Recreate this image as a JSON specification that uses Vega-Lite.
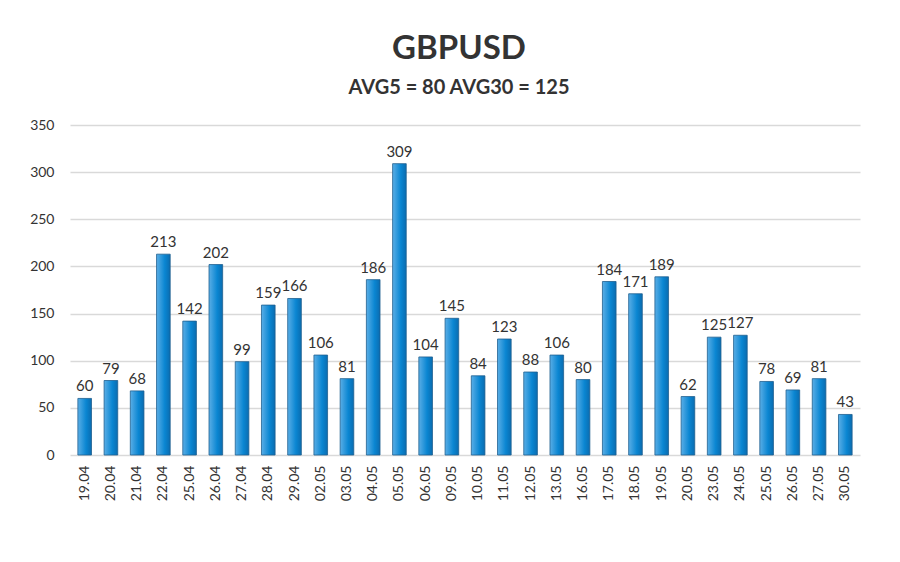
{
  "$schema": "https://vega.github.io/schema/vega-lite/v6.json",
  "autosize": "none",
  "width": 790,
  "height": 330,
  "padding": {"left": 70, "top": 125, "right": 40, "bottom": 107},
  "background": "white",
  "title": {
    "text": "GBPUSD",
    "subtitle": "AVG5 = 80 AVG30 = 125",
    "anchor": "middle",
    "dx": -6,
    "offset": 20,
    "font": "Lato",
    "fontSize": 33,
    "fontWeight": "bold",
    "color": "#333333",
    "subtitleFont": "Lato",
    "subtitleFontSize": 20,
    "subtitleFontWeight": "bold",
    "subtitleColor": "#333333",
    "subtitlePadding": 12
  },
  "data": {
    "values": [
      {"date": "19.04", "value": 60},
      {"date": "20.04", "value": 79},
      {"date": "21.04", "value": 68},
      {"date": "22.04", "value": 213},
      {"date": "25.04", "value": 142},
      {"date": "26.04", "value": 202},
      {"date": "27.04", "value": 99},
      {"date": "28.04", "value": 159},
      {"date": "29.04", "value": 166},
      {"date": "02.05", "value": 106},
      {"date": "03.05", "value": 81},
      {"date": "04.05", "value": 186},
      {"date": "05.05", "value": 309},
      {"date": "06.05", "value": 104},
      {"date": "09.05", "value": 145},
      {"date": "10.05", "value": 84},
      {"date": "11.05", "value": 123},
      {"date": "12.05", "value": 88},
      {"date": "13.05", "value": 106},
      {"date": "16.05", "value": 80},
      {"date": "17.05", "value": 184},
      {"date": "18.05", "value": 171},
      {"date": "19.05", "value": 189},
      {"date": "20.05", "value": 62},
      {"date": "23.05", "value": 125},
      {"date": "24.05", "value": 127},
      {"date": "25.05", "value": 78},
      {"date": "26.05", "value": 69},
      {"date": "27.05", "value": 81},
      {"date": "30.05", "value": 43}
    ]
  },
  "encoding": {
    "x": {
      "field": "date",
      "type": "nominal",
      "sort": null,
      "scale": {"paddingInner": 0.48, "paddingOuter": 0.3},
      "axis": {
        "title": null,
        "labelAngle": -90,
        "labelFont": "Lato",
        "labelFontSize": 14,
        "labelColor": "#333333",
        "labelPadding": 10,
        "domain": false,
        "ticks": false
      }
    },
    "y": {
      "field": "value",
      "type": "quantitative",
      "scale": {"domain": [0, 350]},
      "axis": {
        "title": null,
        "values": [0, 50, 100, 150, 200, 250, 300, 350],
        "labelFont": "Lato",
        "labelFontSize": 14,
        "labelColor": "#333333",
        "labelPadding": 16,
        "domain": false,
        "ticks": false,
        "gridColor": "#d9d9d9",
        "gridWidth": 1.5
      }
    }
  },
  "layer": [
    {
      "mark": {
        "type": "bar",
        "color": {
          "gradient": "linear",
          "x1": 0, "y1": 0, "x2": 1, "y2": 0,
          "stops": [
            {"offset": 0, "color": "#5aaee6"},
            {"offset": 0.6, "color": "#0a86d2"},
            {"offset": 1, "color": "#0a6cb0"}
          ]
        },
        "stroke": "#1f5f8f",
        "strokeWidth": 0.8
      }
    },
    {
      "mark": {
        "type": "text",
        "dy": -12,
        "font": "Lato",
        "fontSize": 15,
        "color": "#333333"
      },
      "encoding": {
        "text": {"field": "value", "type": "quantitative"}
      }
    }
  ],
  "config": {"view": {"stroke": null}}
}
